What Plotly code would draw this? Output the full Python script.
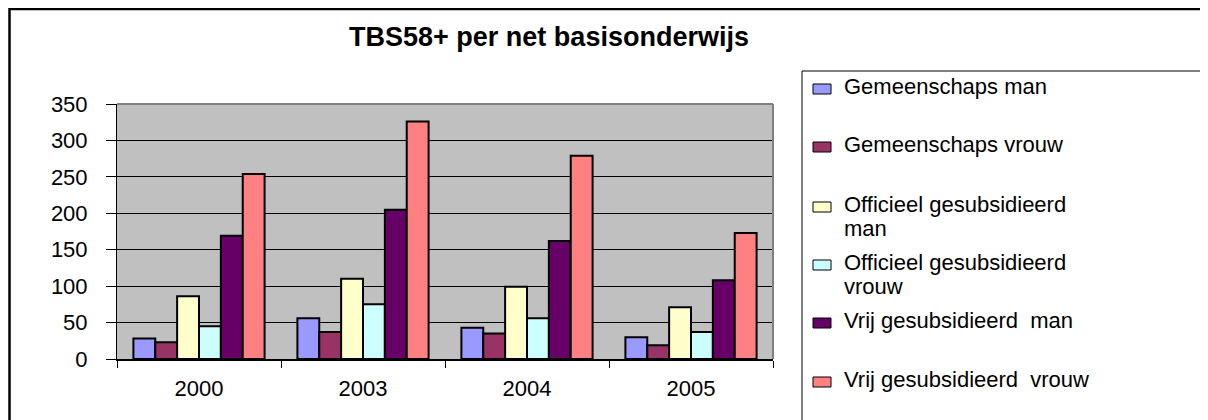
import plotly.graph_objects as go

# data
years = ["2000", "2003", "2004", "2005"]
series_names = [
    "Gemeenschaps man",
    "Gemeenschaps vrouw",
    "Officieel gesubsidieerd<br>man",
    "Officieel gesubsidieerd<br>vrouw",
    "Vrij gesubsidieerd\u00a0 man",
    "Vrij gesubsidieerd\u00a0 vrouw",
]
gem_man = [28, 56, 43, 30]
gem_vrouw = [23, 37, 35, 19]
off_man = [86, 110, 99, 71]
off_vrouw = [45, 75, 56, 37]
vrij_man = [169, 205, 162, 108]
vrij_vrouw = [254, 326, 279, 173]
y_ticks = [0, 50, 100, 150, 200, 250, 300, 350]

series_values = [gem_man, gem_vrouw, off_man, off_vrouw, vrij_man, vrij_vrouw]
colors = ["#9999FF", "#993366", "#FFFFCC", "#CCFFFF", "#660066", "#FF8080"]

FONT = "Liberation Sans, Arial, sans-serif"
OFF = 8  # page body margin
W, H = 1208 - OFF, 420 - OFF
# plot area in page pixels
L, R, T, B = 117, 773, 104, 359


def px(x):
    return (x - L) / (R - L)


def py(y):
    return (B - y) / (B - T)


def hline(x0, x1, y, color, width):
    return dict(type="line", xref="paper", yref="paper",
                x0=px(x0), x1=px(x1), y0=py(y), y1=py(y),
                line=dict(color=color, width=width), layer="above")


def vline(x, y0, y1, color, width):
    return dict(type="line", xref="paper", yref="paper",
                x0=px(x), x1=px(x), y0=py(y0), y1=py(y1),
                line=dict(color=color, width=width), layer="above")


fig = go.Figure()
for name, vals, col in zip(series_names, series_values, colors):
    fig.add_trace(go.Bar(
        x=years,
        y=vals,
        name=name.replace("<br>", " "),
        marker=dict(color=col, line=dict(color="black", width=2)),
        showlegend=False,
    ))

shapes = [
    # outer chart frame (runs off the right and bottom edges)
    hline(9, 1220, OFF + 1, "black", 2.5),
    vline(9.5, OFF, 430, "black", 2.5),
    # grey top and right plot frame
    hline(L, R, T, "#808080", 2),
    vline(R, T, B, "#808080", 2),
    # legend box
    hline(802, 1220, 71, "black", 1),
    vline(802, 71, 430, "black", 1),
]
annotations = []

# legend entries
baselines = [94, 152, 212, 270, 328, 387]
for name, col, base in zip(series_names, colors, baselines):
    shapes.append(dict(type="rect", xref="paper", yref="paper",
                       x0=px(813), x1=px(831), y0=py(base), y1=py(base - 10),
                       fillcolor=col, line=dict(color="black", width=1),
                       layer="above"))
    for i, line in enumerate(name.split("<br>")):
        annotations.append(dict(
            text=line, xref="paper", yref="paper",
            x=px(842), y=py(base + 24 * i - 7.5),
            xanchor="left", yanchor="middle", showarrow=False,
            font=dict(family=FONT, size=22, color="black"),
        ))

fig.update_layout(
    width=W,
    height=H,
    margin=dict(l=L - OFF, r=W - (R - OFF), t=T - OFF, b=H - (B - OFF), pad=0),
    paper_bgcolor="white",
    plot_bgcolor="#C0C0C0",
    barmode="group",
    bargap=0.2,
    bargroupgap=0,
    title=dict(
        text="TBS58+ per net basisonderwijs",
        x=(549 - OFF) / W, xanchor="center",
        y=1 - (37 - OFF) / H, yanchor="middle",
        font=dict(family=FONT, size=27, color="black", weight="bold"),
    ),
    shapes=shapes,
    annotations=annotations,
    showlegend=False,
)

fig.update_xaxes(
    type="category",
    showline=True, linecolor="black", linewidth=1.5,
    ticks="outside", tickson="boundaries", ticklen=7, tickcolor="black",
    tickfont=dict(family=FONT, size=22, color="black"),
    ticklabelstandoff=9,
    showgrid=False,
)
fig.update_yaxes(
    range=[0, 350],
    tickvals=y_ticks,
    showline=True, linecolor="black", linewidth=1,
    ticks="outside", ticklen=10, tickcolor="black",
    tickfont=dict(family=FONT, size=22, color="black"),
    ticklabelstandoff=14,
    showgrid=True, gridcolor="black", gridwidth=1,
    zeroline=False,
)

fig.write_html("out.html")
